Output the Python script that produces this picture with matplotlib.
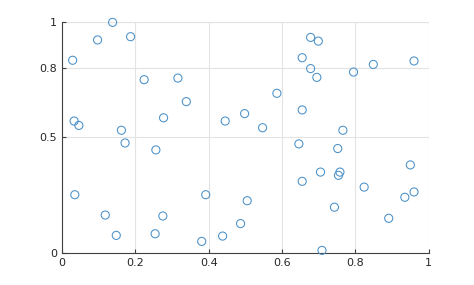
import matplotlib
matplotlib.use("Agg")
import matplotlib.pyplot as plt

# point coordinates
x_vals = [0.029, 0.097, 0.138, 0.187, 0.224, 0.316, 0.339, 0.277, 0.033, 0.046,
          0.162, 0.172, 0.256, 0.445, 0.678, 0.699, 0.655, 0.678, 0.695, 0.795,
          0.849, 0.960, 0.586, 0.498, 0.547, 0.655, 0.766, 0.646, 0.752, 0.035,
          0.392, 0.118, 0.275, 0.148, 0.254, 0.381, 0.438, 0.487, 0.705, 0.758,
          0.754, 0.655, 0.950, 0.824, 0.960, 0.935, 0.505, 0.743, 0.891, 0.709]
y_vals = [0.833, 0.921, 0.997, 0.935, 0.749, 0.756, 0.654, 0.584, 0.570, 0.551,
          0.530, 0.475, 0.445, 0.570, 0.932, 0.916, 0.844, 0.797, 0.759, 0.782,
          0.815, 0.830, 0.690, 0.602, 0.541, 0.618, 0.530, 0.471, 0.451, 0.251,
          0.251, 0.163, 0.159, 0.075, 0.082, 0.049, 0.072, 0.126, 0.349, 0.349,
          0.335, 0.309, 0.380, 0.284, 0.263, 0.240, 0.225, 0.197, 0.149, 0.010]

x_ticks = [0, 0.2, 0.4, 0.6, 0.8, 1]
x_labels = ["0", "0.2", "0.4", "0.6", "0.8", "1"]
y_ticks = [0, 0.5, 0.8, 1]
y_labels = ["0", "0.5", "0.8", "1"]

fig = plt.figure(figsize=(4.74, 2.85), dpi=100)
ax = fig.add_axes([0.1308, 0.1133, 0.7736, 0.8106])

ax.scatter(x_vals, y_vals, s=34, facecolors="none", edgecolors="#4a90c8",
           linewidths=0.75, zorder=3, clip_on=False)

ax.set_xlim(0, 1)
ax.set_ylim(0, 1)
ax.set_xticks(x_ticks)
ax.set_xticklabels(x_labels)
ax.set_yticks(y_ticks)
ax.set_yticklabels(y_labels)

ax.grid(True, color="#e3e3e3", linewidth=0.8, zorder=0)
ax.set_axisbelow(True)
for side in ["top", "right"]:
    ax.spines[side].set_visible(False)
for side in ["left", "bottom"]:
    ax.spines[side].set_color("#404040")
    ax.spines[side].set_linewidth(0.8)

# grid lines at the far edges, like the reference
ax.axhline(1, color="#e3e3e3", linewidth=0.8, zorder=0)
ax.axvline(1, color="#e3e3e3", linewidth=0.8, zorder=0)

ax.tick_params(direction="in", length=3, width=0.8, color="#404040",
               labelsize=8, labelcolor="#262626")

fig.savefig("out.png", dpi=100)
